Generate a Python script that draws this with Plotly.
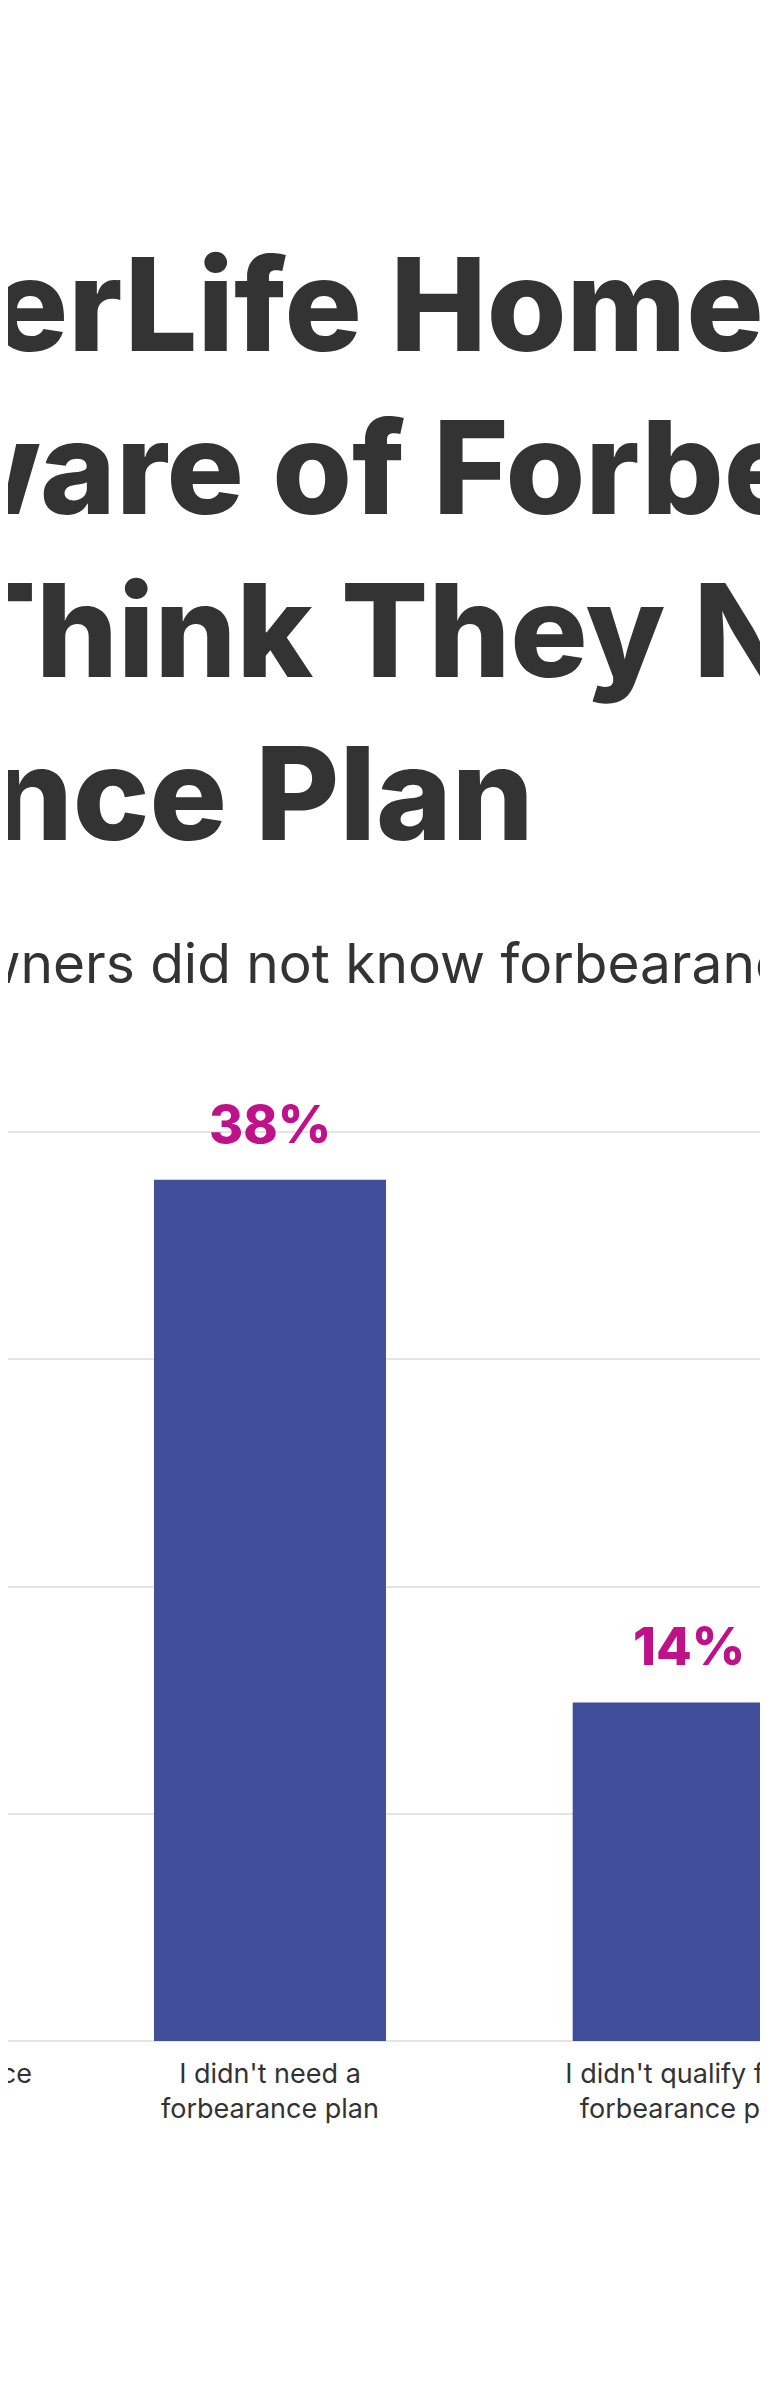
import plotly.graph_objects as go

# ---- data ----
categories = [
    "I didn't know of forbearance<br>plans",
    "I didn't need a<br>forbearance plan",
    "I didn't qualify for a<br>forbearance plan",
]
values = [None, 37.9, 14.9]          # first bar lies outside the visible window
value_labels = ["", "38%", "14%"]
y_ticks = [0, 10, 20, 30, 40]
title_lines = [
    "Most SaverLife Homeowners",
    "Are Unaware of Forbearance",
    "or Don't Think They Need a",
    "Forbearance Plan",
]
subtitle = "Most SaverLife homeowners did not know forbearance plans were available"

# ---- style / layout constants ----
OFF = 8                      # default page body margin
W, H = 760, 2385
M_T, M_B = 992, 352
PLOT_H = H - M_T - M_B
BAR_COLOR = "#414E9A"
LABEL_COLOR = "#BF118A"
TEXT_COLOR = "#333333"
GRID_COLOR = "#E4E4E4"
FONT = "Inter"

X_RANGE = [0.3743, 2.1894]
Y_RANGE = [0, 45.81]


def px_x(page_x):
    return (page_x - OFF) / W


def px_y(page_y):
    return (H - M_B - (page_y - OFF)) / PLOT_H


def cat_x(i):
    return (i - X_RANGE[0]) / (X_RANGE[1] - X_RANGE[0])


fig = go.Figure()
fig.add_trace(go.Bar(
    x=list(range(len(categories))),
    y=values,
    marker=dict(color=BAR_COLOR, line=dict(width=0)),
    hoverinfo="skip",
))

annotations = []
TITLE_SIZE = 129
DESC = 0.242
title_x = [-600, -580, -590, -584]
title_base = [351.7, 515, 678, 841]
for line, tx, tb in zip(title_lines, title_x, title_base):
    annotations.append(dict(
        text=line, xref="paper", yref="paper",
        x=px_x(tx), y=px_y(tb + DESC * TITLE_SIZE + 1),
        xanchor="left", yanchor="bottom", showarrow=False,
        font=dict(family=FONT, size=TITLE_SIZE, color=TEXT_COLOR, weight=800),
    ))

SUB_SIZE = 55
annotations.append(dict(
    text=subtitle, xref="paper", yref="paper",
    x=px_x(-609), y=px_y(984 + DESC * SUB_SIZE + 1),
    xanchor="left", yanchor="bottom", showarrow=False,
    font=dict(family=FONT, size=SUB_SIZE, color=TEXT_COLOR),
))

for i, (v, lab) in enumerate(zip(values, value_labels)):
    if v is None or not lab:
        continue
    annotations.append(dict(
        text=lab, xref="x", yref="y", x=i, y=v,
        xanchor="center", yanchor="bottom", yshift=22, showarrow=False,
        font=dict(family=FONT, size=52, color=LABEL_COLOR, weight=800),
    ))

TICK_SIZE = 27
annotations.append(dict(
    text=categories[0], xref="paper", yref="paper",
    x=cat_x(0), y=0, yshift=-14,
    xanchor="center", yanchor="top", showarrow=False,
    font=dict(family=FONT, size=TICK_SIZE, color=TEXT_COLOR),
))

fig.update_layout(
    width=W, height=H,
    margin=dict(l=0, r=0, t=M_T, b=M_B, autoexpand=False),
    paper_bgcolor="white", plot_bgcolor="white",
    showlegend=False,
    bargap=0.4459,
    annotations=annotations,
    font=dict(family=FONT, color=TEXT_COLOR),
)
fig.update_xaxes(
    range=X_RANGE, tickmode="array",
    tickvals=list(range(len(categories))), ticktext=categories,
    tickangle=0, showgrid=False, showline=False, ticks="",
    tickfont=dict(family=FONT, size=TICK_SIZE, color=TEXT_COLOR),
    ticklabelstandoff=14, ticklabeloverflow="allow",
)
fig.update_yaxes(
    range=Y_RANGE, tickvals=y_ticks, showticklabels=False,
    showgrid=True, gridcolor=GRID_COLOR, gridwidth=2,
    zeroline=True, zerolinecolor=GRID_COLOR, zerolinewidth=2,
    showline=False, ticks="",
)

fig.write_html("out.html")
